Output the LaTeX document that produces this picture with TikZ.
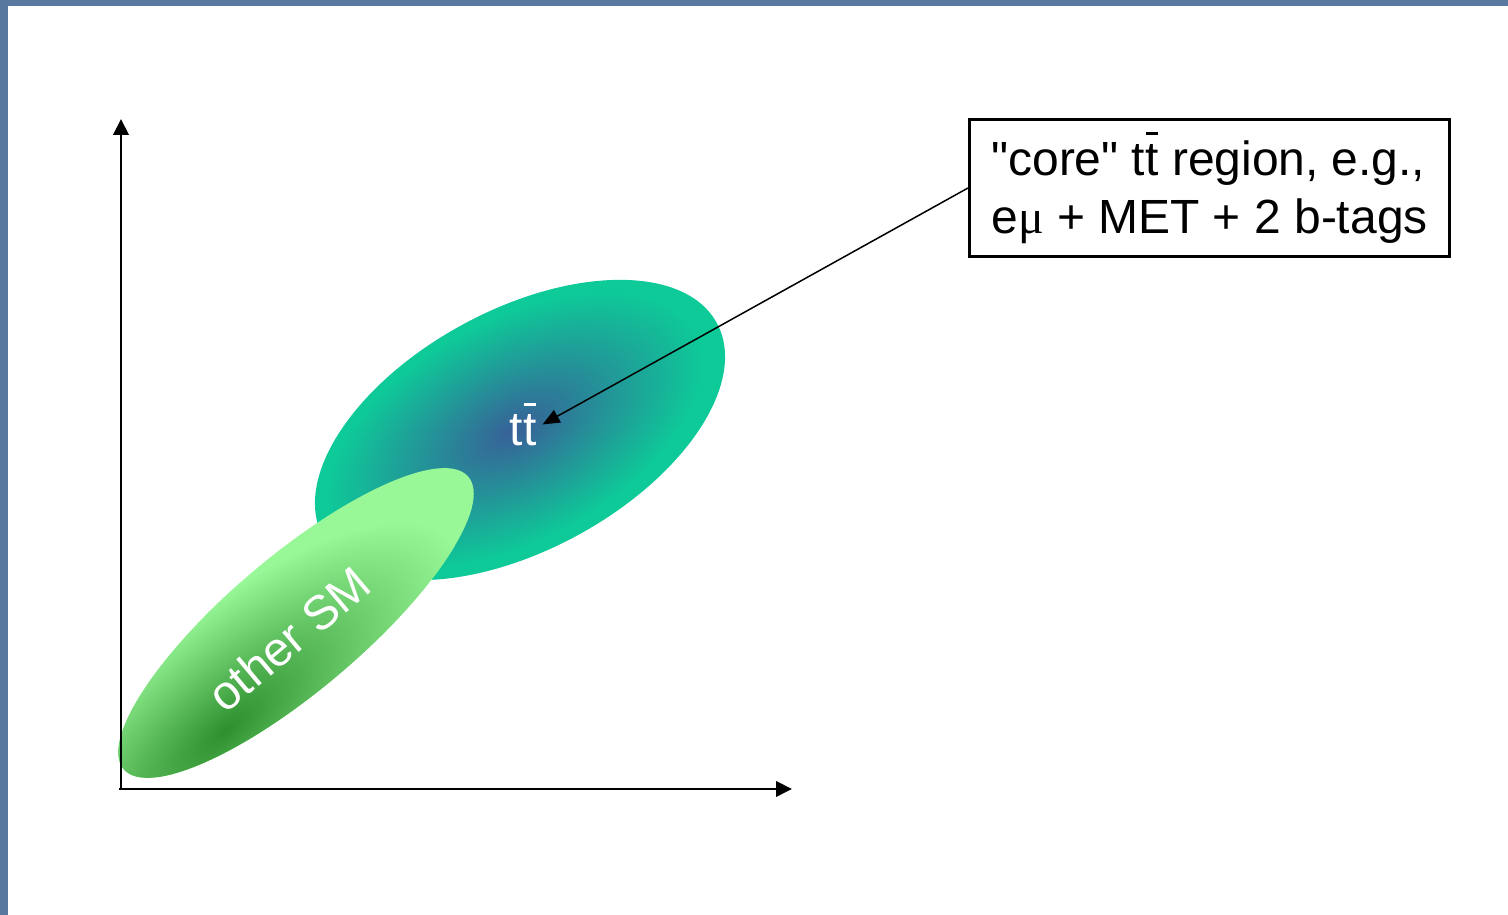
\documentclass[tikz,border=0pt]{standalone}
\usepackage{fontspec}
\setmainfont{Liberation Sans}
\newfontfamily\greekfont{Liberation Serif}
\usetikzlibrary{arrows.meta,positioning}
\definecolor{frameblue}{RGB}{88,120,160}
\definecolor{ttcore}{RGB}{56,96,152}
\definecolor{ttedge}{RGB}{14,201,152}
\definecolor{smdark}{RGB}{46,143,46}
\definecolor{smlight}{RGB}{152,248,152}
\newcommand{\tbar}{t\llap{\rule[0.84em]{0.25em}{0.065em}\hspace{0.01em}}}

\begin{document}
\begin{tikzpicture}[
  axis/.style={line width=0.04cm, -{Triangle[length=0.32cm,width=0.31cm]}},
  pointer/.style={line width=0.03cm, -{Triangle[length=0.34cm,width=0.28cm]}},
  every node/.style={font=\fontsize{27.3}{33}\selectfont}
]
  \useasboundingbox (0,0) rectangle (30.16,18.3);
  % slide frame
  \fill[frameblue] (0,18.18) rectangle (30.16,18.3);
  \fill[frameblue] (0,0) rectangle (0.16,18.3);
  % ttbar blob
  \begin{scope}[transform canvas={shift={(10.4,9.7)}, rotate=28.5}]
    \fill[ttedge] (0,0) ellipse (4.48 and 2.4);
    \clip (0,0) ellipse (4.48 and 2.4);
    \shade[inner color=ttcore, outer color=ttedge] (-0.1,0.05) ellipse (4.1 and 2.2);
  \end{scope}
  % other SM blob
  \begin{scope}[transform canvas={shift={(5.92,5.84)}, rotate=40.3}]
    \fill[smlight] (0,0) ellipse (4.52 and 1.34);
    \clip (0,0) ellipse (4.52 and 1.34);
    \shade[inner color=smdark, outer color=smlight] (-2.46,-0.72) ellipse (5.9 and 2.2);
  \end{scope}
  \node[text=white, anchor=base] (tt) at (10.46,9.38) {t\tbar};
  \node[text=white, rotate=40] (other) at (5.78,5.52) {other SM};
  % axes
  \coordinate (O) at (2.42,2.52);
  \coordinate (ytip) at (2.42,15.92);
  \coordinate (xtip) at (15.84,2.52);
  \draw[axis] (O) -- (ytip);
  \draw[axis] ([xshift=-0.04cm]O) -- (xtip);
  % selection box
  \node[draw, line width=0.06cm, minimum width=9.6cm, minimum height=2.74cm, align=left]
    (core) at (24.19,14.54) {\textquotedbl core\textquotedbl{} t\tbar{} region, e.g.,\\ e{\greekfont μ} + MET + 2 b-tags};
  \draw[pointer] (core.west) -- (tt.east);
\end{tikzpicture}
\end{document}
